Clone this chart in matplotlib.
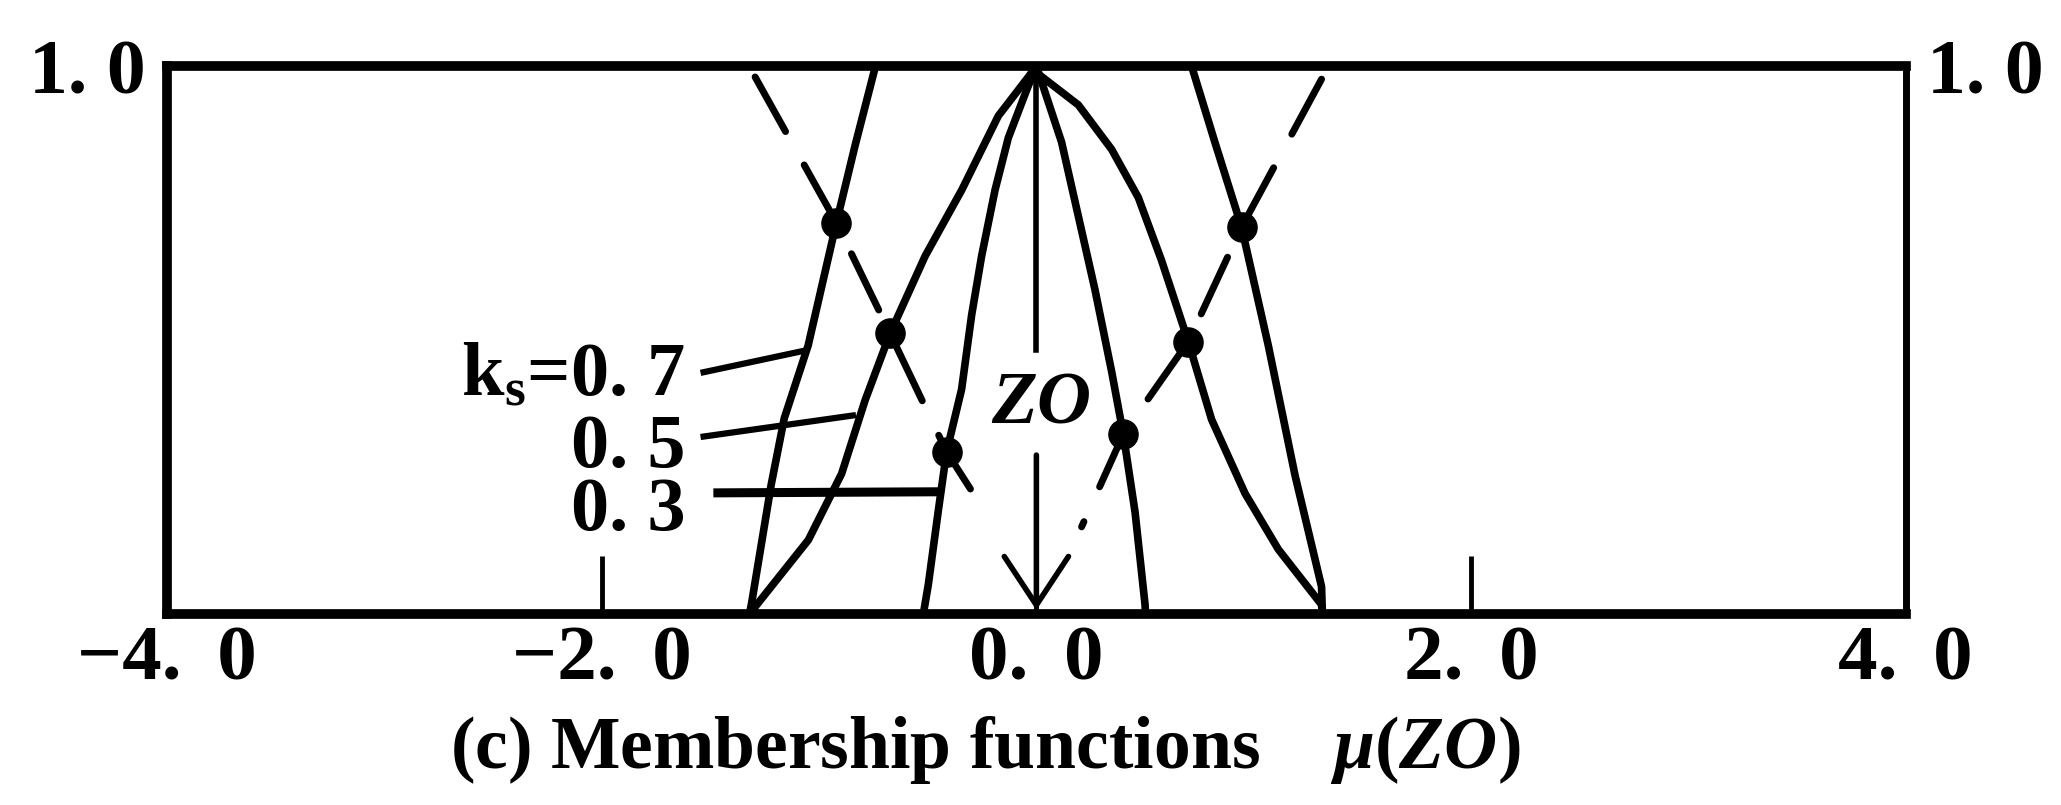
import matplotlib
matplotlib.use("Agg")
import matplotlib.pyplot as plt

# fonts: bold serif everywhere, italic for the ZO symbols
plt.rcParams['font.family'] = ['Liberation Serif', 'DejaVu Serif']
plt.rcParams['font.weight'] = 'bold'
plt.rcParams['mathtext.fontset'] = 'custom'
plt.rcParams['mathtext.rm'] = 'Liberation Serif:bold'
plt.rcParams['mathtext.it'] = 'Liberation Serif:italic:bold'
plt.rcParams['mathtext.bf'] = 'Liberation Serif:bold'

# membership function mu(ZO) for three values of k_s
k03_x = [-0.52, -0.497, -0.451, -0.413, -0.344, -0.298, -0.252, -0.19, -0.129, -0.045, 0.0,
         0.116, 0.193, 0.27, 0.346, 0.40, 0.454, 0.50, 0.502]
k03_y = [0.0, 0.054, 0.189, 0.296, 0.41, 0.545, 0.653, 0.774, 0.869, 0.956, 1.0,
         0.861, 0.726, 0.591, 0.443, 0.328, 0.186, 0.017, 0.0]

k05_x = [-1.31, -1.294, -1.049, -0.896, -0.788, -0.673, -0.512, -0.343, -0.175, -0.037, 0.0,
         0.01, 0.193, 0.346, 0.469, 0.576, 0.699, 0.806, 0.96, 1.113, 1.312, 1.316]
k05_y = [0.0, 0.013, 0.135, 0.256, 0.39, 0.512, 0.653, 0.774, 0.909, 0.98, 1.0,
         0.985, 0.929, 0.848, 0.76, 0.645, 0.497, 0.355, 0.22, 0.118, 0.017, 0.0]

k07_x = [-1.32, -1.31, -1.22, -1.16, -1.05, -0.92, -0.834, -0.74,
         0.714, 0.822, 0.944, 1.067, 1.19, 1.312, 1.316]
k07_y = [0.0, 0.02, 0.236, 0.357, 0.49, 0.714, 0.855, 1.0,
         1.0, 0.86, 0.706, 0.49, 0.253, 0.05, 0.0]

# points where mu = k_s on each side
mark_x = [-0.92, -0.673, -0.413, 0.944, 0.699, 0.40]
mark_y = [0.714, 0.512, 0.296, 0.706, 0.497, 0.328]

# dashed guide lines through the marked points
guide_left_x = [-1.294, -0.92, -0.673, -0.413, -0.229]
guide_left_y = [0.98, 0.714, 0.512, 0.296, 0.182]
guide_right_x = [1.312, 0.944, 0.699, 0.40, 0.208]
guide_right_y = [0.976, 0.706, 0.497, 0.328, 0.159]

# k_s labels and their leader lines
label_texts = [r'$\mathrm{k}_{\mathrm{s}}$=0. 7', '0. 5', '0. 3']
label_y = [0.40, 0.268, 0.153]
leader_x = [[-1.545, -1.049], [-1.545, -0.83], [-1.486, -0.45]]
leader_y = [[0.44, 0.482], [0.323, 0.363], [0.221, 0.223]]
leader_w = [4.5, 4.5, 6.5]

x_ticks = [-4.0, -2.0, 0.0, 2.0, 4.0]
x_ticklabels = ['\u22124.\u2009 0', '\u22122.\u2009 0', '0.\u2009 0', '2.\u2009 0', '4.\u2009 0']

fig = plt.figure(figsize=(20.61, 8.05), dpi=100)
ax = fig.add_axes([0.081, 0.2373, 0.8437, 0.6807])

for xs, ys in [(k03_x, k03_y), (k05_x, k05_y), (k07_x, k07_y)]:
    ax.plot(xs, ys, color='black', lw=5.5, solid_capstyle='round', solid_joinstyle='round')

for xs, ys in [(guide_left_x, guide_left_y), (guide_right_x, guide_right_y)]:
    ax.plot(xs, ys, color='black', lw=5, linestyle=(0, (9, 5.5)), dash_capstyle='round')

ax.plot(mark_x, mark_y, 'o', color='black', ms=21, zorder=4)

for txt, ly, lx, lyy, lw in zip(label_texts, label_y, leader_x, leader_y, leader_w):
    ax.text(-1.615, ly, txt, ha='right', va='baseline', fontsize=55)
    ax.plot(lx, lyy, color='black', lw=lw, solid_capstyle='butt')

# ZO arrow pointing down to the origin
ax.plot([0.0, 0.0], [1.0, 0.482], color='black', lw=4)
ax.text(0.024, 0.381, 'ZO', ha='center', va='center', fontsize=54, style='italic')
ax.annotate('', xy=(0.0, 0.007), xytext=(0.0, 0.29),
            arrowprops=dict(arrowstyle='->,head_length=1.0,head_width=0.66',
                            mutation_scale=35, lw=4, color='black',
                            shrinkA=0, shrinkB=0))

ax.set_xlim(-4, 4)
ax.set_ylim(0, 1.0)
ax.set_xticks(x_ticks)
ax.set_xticklabels(x_ticklabels, fontsize=57)
ax.tick_params(axis='x', direction='in', length=42, width=3.5, pad=8)

ax.set_yticks([1.0])
ax.set_yticklabels(['1. 0'], fontsize=56)
ax.tick_params(axis='y', length=0, pad=15, labelleft=True, labelright=True)

for side in ['top', 'bottom', 'left']:
    ax.spines[side].set_linewidth(7)
ax.spines['right'].set_linewidth(5)

fig.text(0.478, 0.046, r'(c) Membership functions    $\mu(ZO)$',
         ha='center', va='baseline', fontsize=53)

fig.savefig('out.png', dpi=100)
